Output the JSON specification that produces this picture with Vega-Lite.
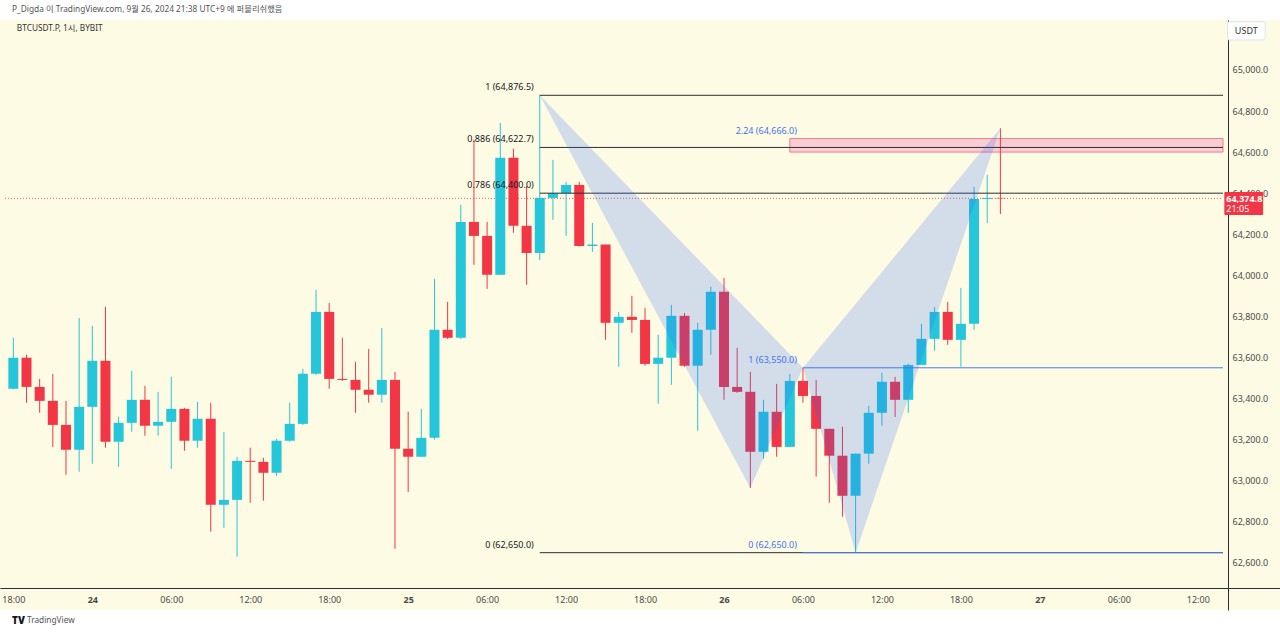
{
  "$schema": "https://vega.github.io/schema/vega-lite/v6.json",
  "width": 1280,
  "height": 590,
  "autosize": {"type": "none"},
  "padding": {"left": 0, "right": 0, "top": 20, "bottom": 24},
  "background": "#ffffff",
  "config": {"view": {"fill": "#fefbe4", "stroke": null}, "font": "Noto Sans", "axis": {"grid": false}},
  "encoding": {
    "x": {"field": "t", "type": "temporal",
      "scale": {"type": "utc", "nice": false, "domain": [1727112117600, 1727459521000]},
      "axis": {"orient": "bottom", "offset": -22, "title": null, "ticks": false, "labelPadding": 7, "labelFontSize": 9, "labelColor": "#4a4a4a", "domainColor": "#2a2e39", "domainWidth": 1,
        "values": [
          {"year":2024,"month":9,"date":23,"hours":18,"utc":true},
          {"year":2024,"month":9,"date":24,"hours":0,"utc":true},
          {"year":2024,"month":9,"date":24,"hours":6,"utc":true},
          {"year":2024,"month":9,"date":24,"hours":12,"utc":true},
          {"year":2024,"month":9,"date":24,"hours":18,"utc":true},
          {"year":2024,"month":9,"date":25,"hours":0,"utc":true},
          {"year":2024,"month":9,"date":25,"hours":6,"utc":true},
          {"year":2024,"month":9,"date":25,"hours":12,"utc":true},
          {"year":2024,"month":9,"date":25,"hours":18,"utc":true},
          {"year":2024,"month":9,"date":26,"hours":0,"utc":true},
          {"year":2024,"month":9,"date":26,"hours":6,"utc":true},
          {"year":2024,"month":9,"date":26,"hours":12,"utc":true},
          {"year":2024,"month":9,"date":26,"hours":18,"utc":true},
          {"year":2024,"month":9,"date":27,"hours":0,"utc":true},
          {"year":2024,"month":9,"date":27,"hours":6,"utc":true},
          {"year":2024,"month":9,"date":27,"hours":12,"utc":true}
        ],
        "labelOverlap": false, "labelFlush": false, "labelBound": false,
        "labelFontWeight": {"condition": {"test": "utchours(datum.value) == 0", "value": "bold"}, "value": "normal"},
        "labelExpr": "utchours(datum.value) == 0 ? utcFormat(datum.value, '%d') : utcFormat(datum.value, '%H:%M')"}},
    "y": {"field": "p", "type": "quantitative",
      "scale": {"domain": [62371, 65243], "nice": false, "zero": false},
      "axis": {"orient": "right", "offset": -52, "title": null, "ticks": false, "labelPadding": 4, "labelFontSize": 9, "labelColor": "#4a4a4a", "domainColor": "#2a2e39", "domainWidth": 1,
        "values": [62600, 62800, 63000, 63200, 63400, 63600, 63800, 64000, 64200, 64400, 64600, 64800, 65000], "format": ",.1f", "labelOverlap": false, "labelFlush": false}}
  },
  "datasets": {
    "candles": [
      {"t":"2024-09-23T18:00:00Z","o":63448,"h":63696,"l":63445,"c":63599},
      {"t":"2024-09-23T19:00:00Z","o":63599,"h":63613,"l":63380,"c":63457},
      {"t":"2024-09-23T20:00:00Z","o":63457,"h":63496,"l":63331,"c":63389},
      {"t":"2024-09-23T21:00:00Z","o":63389,"h":63520,"l":63165,"c":63272},
      {"t":"2024-09-23T22:00:00Z","o":63272,"h":63389,"l":63029,"c":63151},
      {"t":"2024-09-23T23:00:00Z","o":63151,"h":63793,"l":63044,"c":63360},
      {"t":"2024-09-24T00:00:00Z","o":63360,"h":63754,"l":63083,"c":63584},
      {"t":"2024-09-24T01:00:00Z","o":63584,"h":63847,"l":63161,"c":63190},
      {"t":"2024-09-24T02:00:00Z","o":63190,"h":63312,"l":63068,"c":63282},
      {"t":"2024-09-24T03:00:00Z","o":63282,"h":63535,"l":63238,"c":63394},
      {"t":"2024-09-24T04:00:00Z","o":63394,"h":63462,"l":63219,"c":63268},
      {"t":"2024-09-24T05:00:00Z","o":63268,"h":63433,"l":63219,"c":63287},
      {"t":"2024-09-24T06:00:00Z","o":63287,"h":63506,"l":63058,"c":63350},
      {"t":"2024-09-24T07:00:00Z","o":63350,"h":63355,"l":63146,"c":63195},
      {"t":"2024-09-24T08:00:00Z","o":63195,"h":63384,"l":63161,"c":63302},
      {"t":"2024-09-24T09:00:00Z","o":63302,"h":63380,"l":62752,"c":62883},
      {"t":"2024-09-24T10:00:00Z","o":62883,"h":63238,"l":62771,"c":62907},
      {"t":"2024-09-24T11:00:00Z","o":62907,"h":63117,"l":62630,"c":63097},
      {"t":"2024-09-24T12:00:00Z","o":63097,"h":63161,"l":62893,"c":63092},
      {"t":"2024-09-24T13:00:00Z","o":63092,"h":63112,"l":62903,"c":63039},
      {"t":"2024-09-24T14:00:00Z","o":63039,"h":63204,"l":63024,"c":63195},
      {"t":"2024-09-24T15:00:00Z","o":63195,"h":63380,"l":63190,"c":63277},
      {"t":"2024-09-24T16:00:00Z","o":63277,"h":63545,"l":63272,"c":63521},
      {"t":"2024-09-24T17:00:00Z","o":63521,"h":63929,"l":63516,"c":63822},
      {"t":"2024-09-24T18:00:00Z","o":63822,"h":63866,"l":63448,"c":63496},
      {"t":"2024-09-24T19:00:00Z","o":63496,"h":63696,"l":63486,"c":63491},
      {"t":"2024-09-24T20:00:00Z","o":63491,"h":63579,"l":63331,"c":63443},
      {"t":"2024-09-24T21:00:00Z","o":63443,"h":63642,"l":63380,"c":63419},
      {"t":"2024-09-24T22:00:00Z","o":63419,"h":63744,"l":63380,"c":63491},
      {"t":"2024-09-24T23:00:00Z","o":63491,"h":63530,"l":62669,"c":63156},
      {"t":"2024-09-25T00:00:00Z","o":63156,"h":63336,"l":62946,"c":63117},
      {"t":"2024-09-25T01:00:00Z","o":63117,"h":63350,"l":63117,"c":63209},
      {"t":"2024-09-25T02:00:00Z","o":63209,"h":63983,"l":63200,"c":63735},
      {"t":"2024-09-25T03:00:00Z","o":63735,"h":63871,"l":63690,"c":63696},
      {"t":"2024-09-25T04:00:00Z","o":63696,"h":64343,"l":63690,"c":64260},
      {"t":"2024-09-25T05:00:00Z","o":64260,"h":64660,"l":64051,"c":64192},
      {"t":"2024-09-25T06:00:00Z","o":64192,"h":64260,"l":63934,"c":64003},
      {"t":"2024-09-25T07:00:00Z","o":64003,"h":64742,"l":64003,"c":64572},
      {"t":"2024-09-25T08:00:00Z","o":64572,"h":64616,"l":64207,"c":64241},
      {"t":"2024-09-25T09:00:00Z","o":64241,"h":64436,"l":63954,"c":64109},
      {"t":"2024-09-25T10:00:00Z","o":64109,"h":64876.5,"l":64075,"c":64377},
      {"t":"2024-09-25T11:00:00Z","o":64377,"h":64562,"l":64270,"c":64400},
      {"t":"2024-09-25T12:00:00Z","o":64400,"h":64455,"l":64192,"c":64440},
      {"t":"2024-09-25T13:00:00Z","o":64440,"h":64455,"l":64140,"c":64143},
      {"t":"2024-09-25T14:00:00Z","o":64143,"h":64255,"l":64114,"c":64150},
      {"t":"2024-09-25T15:00:00Z","o":64150,"h":64150,"l":63686,"c":63769},
      {"t":"2024-09-25T16:00:00Z","o":63769,"h":63822,"l":63555,"c":63798},
      {"t":"2024-09-25T17:00:00Z","o":63798,"h":63900,"l":63720,"c":63783},
      {"t":"2024-09-25T18:00:00Z","o":63783,"h":63841,"l":63560,"c":63569},
      {"t":"2024-09-25T19:00:00Z","o":63569,"h":63710,"l":63375,"c":63599},
      {"t":"2024-09-25T20:00:00Z","o":63599,"h":63856,"l":63467,"c":63803},
      {"t":"2024-09-25T21:00:00Z","o":63803,"h":63817,"l":63555,"c":63560},
      {"t":"2024-09-25T22:00:00Z","o":63560,"h":63769,"l":63243,"c":63735},
      {"t":"2024-09-25T23:00:00Z","o":63735,"h":63944,"l":63613,"c":63920},
      {"t":"2024-09-26T00:00:00Z","o":63920,"h":63988,"l":63394,"c":63457},
      {"t":"2024-09-26T01:00:00Z","o":63457,"h":63647,"l":63428,"c":63433},
      {"t":"2024-09-26T02:00:00Z","o":63433,"h":63530,"l":62965,"c":63141},
      {"t":"2024-09-26T03:00:00Z","o":63141,"h":63394,"l":63107,"c":63336},
      {"t":"2024-09-26T04:00:00Z","o":63336,"h":63472,"l":63117,"c":63165},
      {"t":"2024-09-26T05:00:00Z","o":63165,"h":63520,"l":63165,"c":63486},
      {"t":"2024-09-26T06:00:00Z","o":63486,"h":63550,"l":63380,"c":63413},
      {"t":"2024-09-26T07:00:00Z","o":63413,"h":63491,"l":63020,"c":63253},
      {"t":"2024-09-26T08:00:00Z","o":63253,"h":63253,"l":62893,"c":63122},
      {"t":"2024-09-26T09:00:00Z","o":63122,"h":63263,"l":62825,"c":62927},
      {"t":"2024-09-26T10:00:00Z","o":62927,"h":63132,"l":62650,"c":63132},
      {"t":"2024-09-26T11:00:00Z","o":63132,"h":63365,"l":63083,"c":63331},
      {"t":"2024-09-26T12:00:00Z","o":63331,"h":63525,"l":63268,"c":63482},
      {"t":"2024-09-26T13:00:00Z","o":63482,"h":63506,"l":63311,"c":63394},
      {"t":"2024-09-26T14:00:00Z","o":63394,"h":63570,"l":63331,"c":63564},
      {"t":"2024-09-26T15:00:00Z","o":63564,"h":63764,"l":63564,"c":63691},
      {"t":"2024-09-26T16:00:00Z","o":63691,"h":63846,"l":63633,"c":63822},
      {"t":"2024-09-26T17:00:00Z","o":63822,"h":63871,"l":63662,"c":63686},
      {"t":"2024-09-26T18:00:00Z","o":63686,"h":63939,"l":63555,"c":63764},
      {"t":"2024-09-26T19:00:00Z","o":63764,"h":64431,"l":63735,"c":64372},
      {"t":"2024-09-26T20:00:00Z","o":64372,"h":64489,"l":64255,"c":64377},
      {"t":"2024-09-26T21:00:00Z","o":64377,"h":64716,"l":64299,"c":64374.8}
    ],
    "pattern": [
      {"g":"XAB","o":1,"t":"2024-09-25T10:00:00Z","p":64876.5},
      {"g":"XAB","o":2,"t":"2024-09-26T02:00:00Z","p":62965},
      {"g":"XAB","o":3,"t":"2024-09-26T06:00:00Z","p":63550},
      {"g":"BCD","o":1,"t":"2024-09-26T06:00:00Z","p":63550},
      {"g":"BCD","o":2,"t":"2024-09-26T10:00:00Z","p":62650},
      {"g":"BCD","o":3,"t":"2024-09-26T21:00:00Z","p":64716}
    ],
    "fibs": [
      {"t":"2024-09-25T10:00:00Z","t2":"2024-09-27T13:55:00Z","p":64876.5,"lab":"1 (64,876.5)"},
      {"t":"2024-09-25T10:00:00Z","t2":"2024-09-27T13:55:00Z","p":64622.7,"lab":"0.886 (64,622.7)"},
      {"t":"2024-09-25T10:00:00Z","t2":"2024-09-27T13:55:00Z","p":64400,"lab":"0.786 (64,400.0)"},
      {"t":"2024-09-25T10:00:00Z","t2":"2024-09-27T13:55:00Z","p":62650,"lab":"0 (62,650.0)"}
    ],
    "blues": [
      {"t":"2024-09-26T06:00:00Z","t2":"2024-09-27T13:55:00Z","p":63550,"lab":"1 (63,550.0)"},
      {"t":"2024-09-26T06:00:00Z","t2":"2024-09-27T13:55:00Z","p":62650,"lab":"0 (62,650.0)"}
    ],
    "bluelabels": [
      {"t":"2024-09-26T06:00:00Z","p":63550,"lab":"1 (63,550.0)"},
      {"t":"2024-09-26T06:00:00Z","p":62650,"lab":"0 (62,650.0)"},
      {"t":"2024-09-26T06:00:00Z","p":64666,"lab":"2.24 (64,666.0)"}
    ],
    "zone": [{"t":"2024-09-26T05:00:00Z","t2":"2024-09-27T13:55:00Z","p":64666,"p2":64600}],
    "last": [{"t":"2024-09-23T17:22:00Z","t2":"2024-09-27T13:55:00Z","p":64374.8}]
  },
  "layer": [
    {
      "data": {"name": "last"},
      "mark": {"type": "rule", "color": "#f23645", "strokeDash": [1, 2], "strokeWidth": 1, "opacity": 0.8},
      "encoding": {"x2": {"field": "t2"}}
    },
    {
      "data": {"name": "zone"},
      "mark": {"type": "rect", "fill": "#f9cdd1", "stroke": "#ee7f8f", "strokeWidth": 1},
      "encoding": {"x2": {"field": "t2"}, "y2": {"field": "p2"}}
    },
    {
      "data": {"name": "candles"},
      "mark": {"type": "rule", "strokeWidth": 1},
      "encoding": {
        "y": {"field": "l", "type": "quantitative"}, "y2": {"field": "h"},
        "color": {"condition": {"test": "datum.c >= datum.o", "value": "#26c6da"}, "value": "#f23645"}
      }
    },
    {
      "data": {"name": "candles"},
      "mark": {"type": "bar", "width": 10},
      "encoding": {
        "y": {"field": "o", "type": "quantitative"}, "y2": {"field": "c"},
        "color": {"condition": {"test": "datum.c >= datum.o", "value": "#26c6da"}, "value": "#f23645"}
      }
    },
    {
      "data": {"name": "fibs"},
      "mark": {"type": "rule", "color": "#2a2e39", "strokeWidth": 1},
      "encoding": {"x2": {"field": "t2"}}
    },
    {
      "data": {"name": "blues"},
      "mark": {"type": "rule", "color": "#4a7ef0", "strokeWidth": 1},
      "encoding": {"x2": {"field": "t2"}}
    },
    {
      "data": {"name": "pattern"},
      "mark": {"type": "line", "interpolate": "linear-closed", "fill": "#2962ff", "fillOpacity": 0.2, "strokeOpacity": 0},
      "encoding": {"detail": {"field": "g"}, "order": {"field": "o"}}
    },
    {
      "data": {"name": "fibs"},
      "mark": {"type": "text", "align": "right", "baseline": "bottom", "dx": -6, "dy": -3, "fontSize": 9, "color": "#131722"},
      "encoding": {"text": {"field": "lab"}}
    },
    {
      "data": {"name": "bluelabels"},
      "mark": {"type": "text", "align": "right", "baseline": "bottom", "dx": -6, "dy": -3, "fontSize": 9, "color": "#3f74ee"},
      "encoding": {"text": {"field": "lab"}}
    },
    {
      "data": {"values": [
        {"t":"2024-09-27T14:15:00Z","t2":"2024-09-27T17:07:00Z","p":65234,"p2":65146}
      ]},
      "mark": {"type": "rect", "cornerRadius": 2, "strokeWidth": 1, "fill": "#ffffff", "stroke": "#e0e3eb"},
      "encoding": {"x2": {"field": "t2"}, "y2": {"field": "p2"}}
    },
    {
      "data": {"values": [
        {"t":"2024-09-27T14:01:00Z","t2":"2024-09-27T16:58:00Z","p":64406,"p2":64294}
      ]},
      "mark": {"type": "rect", "cornerRadius": 1, "fill": "#f23645"},
      "encoding": {"x2": {"field": "t2"}, "y2": {"field": "p2"}}
    },
    {
      "data": {"values": [
        {"t":"2024-09-23T17:54:00Z","p":65292,"txt":"P_Digda 이 TradingView.com, 9월 26, 2024 21:38 UTC+9 에 퍼블리쉬했음"},
        {"t":"2024-09-23T19:02:00Z","p":62318,"txt":"TradingView"}
      ]},
      "mark": {"type": "text", "align": "left", "baseline": "middle", "fontSize": 8.3, "color": "#555555", "font": "Noto Sans, Noto Sans CJK KR"},
      "encoding": {"text": {"field": "txt"}}
    },
    {
      "data": {"values": [
        {"t":"2024-09-23T18:16:00Z","p":65200,"txt":"BTCUSDT.P, 1시, BYBIT"}
      ]},
      "mark": {"type": "text", "align": "left", "baseline": "middle", "fontSize": 8.3, "color": "#333333", "font": "Noto Sans, Noto Sans CJK KR"},
      "encoding": {"text": {"field": "txt"}}
    },
    {
      "data": {"values": [
        {"t":"2024-09-27T15:41:00Z","p":65190,"txt":"USDT"}
      ]},
      "mark": {"type": "text", "align": "center", "baseline": "middle", "fontSize": 9, "color": "#333333"},
      "encoding": {"text": {"field": "txt"}}
    },
    {
      "data": {"values": [{"t":"2024-09-23T17:54:00Z","p":62318,"txt":"TV"}]},
      "mark": {"type": "text", "align": "left", "baseline": "middle", "fontSize": 10, "fontWeight": 900, "color": "#131722"},
      "encoding": {"text": {"field": "txt"}}
    },
    {
      "data": {"values": [{"t":"2024-09-27T14:10:00Z","p":64372,"txt":"64,374.8"}]},
      "mark": {"type": "text", "align": "left", "baseline": "middle", "fontSize": 9, "fontWeight": "bold", "color": "#ffffff"},
      "encoding": {"text": {"field": "txt"}}
    },
    {
      "data": {"values": [{"t":"2024-09-27T14:10:00Z","p":64321,"txt":"21:05"}]},
      "mark": {"type": "text", "align": "left", "baseline": "middle", "fontSize": 9, "color": "#ffffff"},
      "encoding": {"text": {"field": "txt"}}
    }
  ]
}
